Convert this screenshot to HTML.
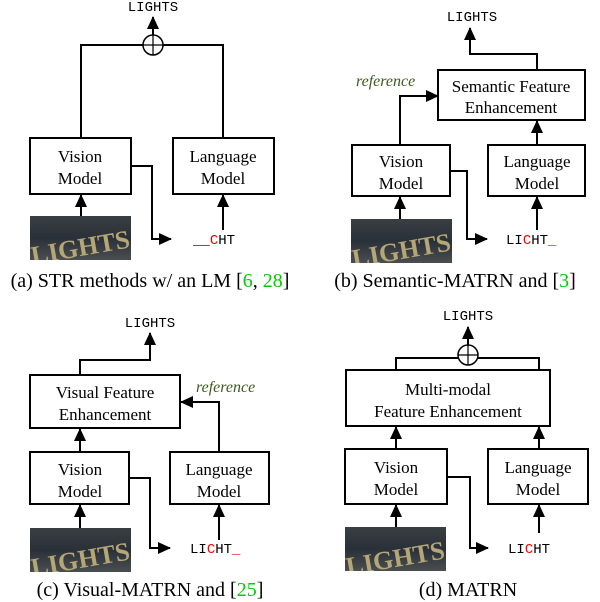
<!DOCTYPE html>
<html><head><style>body{margin:0;background:#fff}svg{display:block}
.b{fill:#fff;stroke:#000;stroke-width:2}
.l{fill:none;stroke:#000;stroke-width:2}
.t{font-family:"Liberation Serif",serif;font-size:17px;text-anchor:middle}
.c{font-family:"Liberation Serif",serif;font-size:20px;text-anchor:middle}
.m{font-family:"Liberation Mono",monospace;font-size:14px}
.r{font-family:"Liberation Serif",serif;font-style:italic;font-size:16px;fill:#3d5a1e}
</style></head><body>
<svg width="600" height="602" viewBox="0 0 600 602" xmlns="http://www.w3.org/2000/svg">
<defs>
<marker id="a" markerUnits="userSpaceOnUse" markerWidth="13" markerHeight="12" refX="12" refY="6" orient="auto"><path d="M0,0L13,6L0,12z" fill="#000"/></marker>
<linearGradient id="g" x1="0" y1="0" x2="0" y2="1"><stop offset="0" stop-color="#3a3f42"/><stop offset="0.5" stop-color="#2a3038"/><stop offset="1" stop-color="#4a4e50"/></linearGradient>
<clipPath id="cp"><rect width="101" height="44"/></clipPath>
<g id="img"><rect width="101" height="44" fill="url(#g)"/><g clip-path="url(#cp)"><text x="50" y="40" transform="rotate(-10 50 30)" font-family="Liberation Serif,serif" font-weight="bold" font-size="26" fill="#b4a676" text-anchor="middle">LIGHTS</text></g></g>
</defs>
<!-- (a) -->
<text class="m" x="153" y="11" text-anchor="middle">LIGHTS</text>
<path class="l" d="M81,138V45H223V138"/>
<circle cx="153" cy="45" r="10" fill="#fff" stroke="#000" stroke-width="1.5"/>
<path d="M143,45H163M153,35V55" stroke="#000" stroke-width="1.2"/>
<path class="l" d="M153,35V17" marker-end="url(#a)"/>
<rect class="b" x="30" y="138" width="101" height="56"/><text class="t" x="80" y="162">Vision</text><text class="t" x="80" y="184">Model</text>
<rect class="b" x="173" y="138" width="101" height="56"/><text class="t" x="223" y="162">Language</text><text class="t" x="223" y="184">Model</text>
<use href="#img" x="30" y="216"/>
<path class="l" d="M81,216V195" marker-end="url(#a)"/>
<path class="l" d="M131,166H152V239H171" stroke-width="1.3" marker-end="url(#a)"/>
<text class="m" x="193" y="244">__<tspan fill="red">C</tspan>HT</text>
<path class="l" d="M223,230V195" stroke-width="1.3" marker-end="url(#a)"/>
<text class="c" x="150" y="287">(a) STR methods w/ an LM [<tspan fill="#0c0">6</tspan>, <tspan fill="#0c0">28</tspan>]</text>
<!-- (b) -->
<text class="m" x="472" y="21" text-anchor="middle">LIGHTS</text>
<path class="l" d="M537,70V54H470V28" marker-end="url(#a)"/>
<rect class="b" x="438" y="70" width="147" height="50"/><text class="t" x="511" y="92">Semantic Feature</text><text class="t" x="511" y="113">Enhancement</text>
<text class="r" x="356" y="86">reference</text>
<path class="l" d="M400,145V96H438" stroke-width="1.3" marker-end="url(#a)"/>
<rect class="b" x="352" y="145" width="98" height="51"/><text class="t" x="401" y="167">Vision</text><text class="t" x="401" y="189">Model</text>
<rect class="b" x="488" y="145" width="97" height="51"/><text class="t" x="537" y="167">Language</text><text class="t" x="537" y="189">Model</text>
<path class="l" d="M537,145V121" marker-end="url(#a)"/>
<use href="#img" x="351" y="219"/>
<path class="l" d="M400,219V197" marker-end="url(#a)"/>
<path class="l" d="M450,171H467V239H487" stroke-width="1.3" marker-end="url(#a)"/>
<text class="m" x="506" y="244">LI<tspan fill="red">C</tspan>HT<tspan fill="red">_</tspan></text>
<path class="l" d="M537,230V197" stroke-width="1.3" marker-end="url(#a)"/>
<text class="c" x="455" y="287">(b) Semantic-MATRN and [<tspan fill="#0c0">3</tspan>]</text>
<!-- (c) -->
<text class="m" x="150" y="327" text-anchor="middle">LIGHTS</text>
<path class="l" d="M80,375V360H150V333" marker-end="url(#a)"/>
<rect class="b" x="30" y="375" width="150" height="53"/><text class="t" x="105" y="398">Visual Feature</text><text class="t" x="105" y="420">Enhancement</text>
<text class="r" x="196" y="392">reference</text>
<path class="l" d="M219,452V402H181" stroke-width="1.3" marker-end="url(#a)"/>
<path class="l" d="M80,452V429" marker-end="url(#a)"/>
<rect class="b" x="30" y="452" width="99" height="52"/><text class="t" x="80" y="475">Vision</text><text class="t" x="80" y="497">Model</text>
<rect class="b" x="170" y="452" width="99" height="52"/><text class="t" x="219" y="475">Language</text><text class="t" x="219" y="497">Model</text>
<use href="#img" x="30" y="528"/>
<path class="l" d="M80,528V505" marker-end="url(#a)"/>
<path class="l" d="M129,478H150V548H170" stroke-width="1.3" marker-end="url(#a)"/>
<text class="m" x="190" y="553">LI<tspan fill="red">C</tspan>HT<tspan fill="red">_</tspan></text>
<path class="l" d="M219,540V505" stroke-width="1.3" marker-end="url(#a)"/>
<text class="c" x="150" y="596">(c) Visual-MATRN and [<tspan fill="#0c0">25</tspan>]</text>
<!-- (d) -->
<text class="m" x="468" y="320" text-anchor="middle">LIGHTS</text>
<path class="l" d="M396,370V358H539V370"/>
<circle cx="468" cy="355" r="10" fill="#fff" stroke="#000" stroke-width="1.5"/>
<path d="M458,355H478M468,345V365" stroke="#000" stroke-width="1.2"/>
<path class="l" d="M468,345V327" marker-end="url(#a)"/>
<rect class="b" x="346" y="370" width="204" height="56"/><text class="t" x="448" y="395">Multi-modal</text><text class="t" x="448" y="417">Feature Enhancement</text>
<path class="l" d="M396,449V427" marker-end="url(#a)"/>
<path class="l" d="M539,449V427" marker-end="url(#a)"/>
<rect class="b" x="345" y="449" width="102" height="55"/><text class="t" x="396" y="473">Vision</text><text class="t" x="396" y="495">Model</text>
<rect class="b" x="488" y="449" width="100" height="55"/><text class="t" x="538" y="473">Language</text><text class="t" x="538" y="495">Model</text>
<use href="#img" x="345" y="527"/>
<path class="l" d="M396,527V505" marker-end="url(#a)"/>
<path class="l" d="M447,477H470V548H488" stroke-width="1.3" marker-end="url(#a)"/>
<text class="m" x="508" y="553">LI<tspan fill="red">C</tspan>HT</text>
<path class="l" d="M539,533V505" stroke-width="1.3" marker-end="url(#a)"/>
<text class="c" x="468" y="596">(d) MATRN</text>
</svg>
</body></html>
